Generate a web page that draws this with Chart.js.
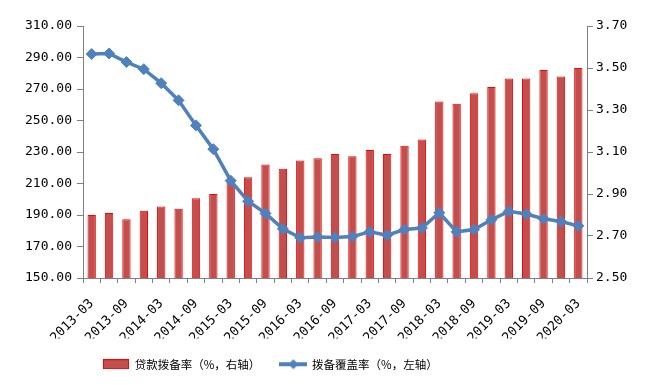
<!DOCTYPE html>
<html>
<head>
<meta charset="utf-8">
<script src="https://cdn.jsdelivr.net/npm/chart.js@4/dist/chart.umd.min.js"></script>
<style>
  html, body { margin: 0; padding: 0; background: #fff; }
  #wrap { width: 649px; height: 387px; }
</style>
</head>
<body>
<div id="wrap"><canvas id="c" width="649" height="387"></canvas></div>
<script>
// 季度
const quarters = [
  "2013-03", "2013-06", "2013-09", "2013-12",
  "2014-03", "2014-06", "2014-09", "2014-12",
  "2015-03", "2015-06", "2015-09", "2015-12",
  "2016-03", "2016-06", "2016-09", "2016-12",
  "2017-03", "2017-06", "2017-09", "2017-12",
  "2018-03", "2018-06", "2018-09", "2018-12",
  "2019-03", "2019-06", "2019-09", "2019-12",
  "2020-03"
];
// 贷款拨备率 (%, 右轴)
const loanProvisionRatio = [
  2.80, 2.81, 2.78, 2.82, 2.84, 2.83, 2.88, 2.90,
  2.96, 2.98, 3.04, 3.02, 3.06, 3.07, 3.09, 3.08,
  3.11, 3.09, 3.13, 3.16, 3.34, 3.33, 3.38, 3.41,
  3.45, 3.45, 3.49, 3.46, 3.50
];
// 拨备覆盖率 (%, 左轴)
const provisionCoverage = [
  292.2, 292.6, 287.1, 282.6, 273.7, 262.8, 246.9, 231.8,
  211.8, 198.7, 191.0, 181.2, 175.5, 176.1, 175.7, 176.3,
  179.3, 177.2, 180.8, 181.7, 191.4, 179.3, 180.8, 187.0,
  192.3, 190.6, 187.6, 185.9, 183.1
];
const leftTicks = [150, 170, 190, 210, 230, 250, 270, 290, 310];
const rightTicks = [2.50, 2.70, 2.90, 3.10, 3.30, 3.50, 3.70];

const barFill = "#C0504D";
const barEdge = "#FF0000";
const lineColor = "#4F81BD";
const axisColor = "#808080";
const numFont = { family: "'DejaVu Sans Mono', monospace", size: 13 };

// 图例样式小图
function makeBarSwatch() {
  const cv = document.createElement("canvas");
  cv.width = 26; cv.height = 10;
  const g = cv.getContext("2d");
  g.fillStyle = barFill;
  g.fillRect(0, 0, 26, 10);
  g.strokeStyle = barEdge;
  g.lineWidth = 1;
  g.strokeRect(0.5, 0.5, 25, 9);
  return cv;
}
function makeLineSwatch() {
  const cv = document.createElement("canvas");
  cv.width = 28; cv.height = 12;
  const g = cv.getContext("2d");
  g.strokeStyle = lineColor;
  g.lineWidth = 4;
  g.beginPath(); g.moveTo(0, 6); g.lineTo(28, 6); g.stroke();
  g.fillStyle = lineColor;
  g.beginPath(); g.moveTo(14, 1); g.lineTo(19, 6); g.lineTo(14, 11); g.lineTo(9, 6); g.closePath(); g.fill();
  return cv;
}
const barSwatch = makeBarSwatch();
const lineSwatch = makeLineSwatch();

new Chart(document.getElementById("c"), {
  data: {
    labels: quarters,
    datasets: [
      {
        type: "bar",
        label: "贷款拨备率（%，右轴）",
        data: loanProvisionRatio,
        yAxisID: "yR",
        backgroundColor: barFill,
        borderColor: barEdge,
        borderWidth: 1,
        categoryPercentage: 1,
        barPercentage: 0.48,
        order: 2
      },
      {
        type: "line",
        label: "拨备覆盖率（%，左轴）",
        data: provisionCoverage,
        yAxisID: "yL",
        borderColor: lineColor,
        backgroundColor: lineColor,
        borderWidth: 3.5,
        pointStyle: "rectRot",
        pointRadius: 5.5,
        pointBorderWidth: 1,
        pointBackgroundColor: lineColor,
        pointBorderColor: lineColor,
        tension: 0,
        order: 1
      }
    ]
  },
  options: {
    responsive: false,
    animation: false,
    layout: { padding: { top: 26, left: 0, right: 0, bottom: 7 } },
    plugins: {
      tooltip: { enabled: false },
      legend: {
        position: "bottom",
        align: "start",
        fullSize: false,
        labels: {
          usePointStyle: true,
          pointStyleWidth: 26,
          boxHeight: 10,
          padding: 20,
          color: "#000",
          font: { family: "'Noto Sans CJK SC', sans-serif", size: 11.5 },
          generateLabels: (chart) => chart.data.datasets.map((ds, i) => ({
            text: ds.label,
            pointStyle: i === 0 ? barSwatch : lineSwatch,
            fillStyle: ds.backgroundColor,
            strokeStyle: ds.borderColor,
            lineWidth: 0,
            hidden: false,
            datasetIndex: i
          }))
        }
      }
    },
    scales: {
      x: {
        offset: true,
        grid: { offset: true, drawOnChartArea: false, drawTicks: true, tickLength: 5, color: axisColor },
        border: { color: axisColor, width: 1 },
        ticks: {
          autoSkip: false,
          minRotation: 45,
          maxRotation: 45,
          padding: 13,
          labelOffset: 0,
          color: "#000",
          font: numFont,
          callback: function (v, i) { return i % 2 === 0 ? this.getLabelForValue(v) : ""; }
        },
        afterFit: (s) => { s.height = 60.5; }
      },
      yL: {
        position: "left",
        min: leftTicks[0],
        max: leftTicks[leftTicks.length - 1],
        grid: { drawOnChartArea: false, drawTicks: true, tickLength: 6, color: axisColor },
        border: { color: axisColor, width: 1 },
        ticks: {
          stepSize: 20,
          padding: 5,
          color: "#000",
          font: numFont,
          callback: (v) => v.toFixed(2)
        },
        afterBuildTicks: (s) => { s.ticks = leftTicks.map(v => ({ value: v })); },
        afterFit: (s) => { s.width = 83; }
      },
      yR: {
        position: "right",
        min: rightTicks[0],
        max: rightTicks[rightTicks.length - 1],
        grid: { drawOnChartArea: false, drawTicks: true, tickLength: 6, color: axisColor },
        border: { color: axisColor, width: 1 },
        ticks: {
          padding: 3,
          color: "#000",
          font: numFont,
          callback: (v) => v.toFixed(2)
        },
        afterBuildTicks: (s) => { s.ticks = rightTicks.map(v => ({ value: v })); },
        afterFit: (s) => { s.width = 62; }
      }
    }
  }
});
</script>
</body>
</html>
